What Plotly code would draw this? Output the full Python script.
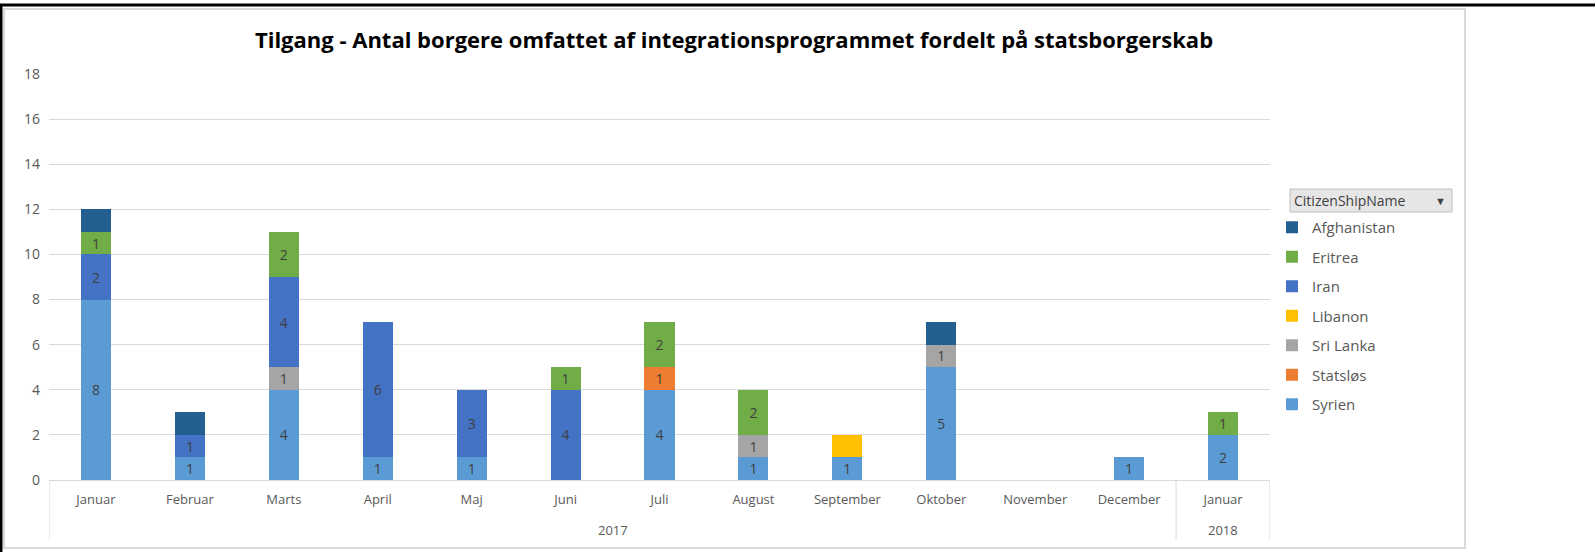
import plotly.graph_objects as go

# Tilgang pr. måned, fordelt på statsborgerskab
months = ["Januar", "Februar", "Marts", "April", "Maj", "Juni", "Juli",
          "August", "September", "Oktober", "November", "December", "Januar"]
years = ["2017", "2018"]
year_spans = [(0, 11), (12, 12)]  # første og sidste måned i hvert år

syrien = [8, 1, 4, 1, 1, None, 4, 1, 1, 5, None, 1, 2]
statslos = [None, None, None, None, None, None, 1, None, None, None, None, None, None]
sri_lanka = [None, None, 1, None, None, None, None, 1, None, 1, None, None, None]
libanon = [None, None, None, None, None, None, None, None, 1, None, None, None, None]
iran = [2, 1, 4, 6, 3, 4, None, None, None, None, None, None, None]
eritrea = [1, None, 2, None, None, 1, 2, 2, None, None, None, None, 1]
afghanistan = [1, 1, None, None, None, None, None, None, None, 1, None, None, None]

# nederst -> øverst i stakken
serier = [
    ("Syrien", syrien, "#5B9BD5", True),
    ("Statsløs", statslos, "#ED7D31", True),
    ("Sri Lanka", sri_lanka, "#A5A5A5", True),
    ("Libanon", libanon, "#FFC000", False),
    ("Iran", iran, "#4472C4", True),
    ("Eritrea", eritrea, "#70AD47", True),
    ("Afghanistan", afghanistan, "#255E91", False),
]

W, H = 1595, 552
L, R, T, B = 49, 1270, 74, 480
xpos = list(range(len(months)))


def px_x(p):
    return (p - L) / (R - L)


def px_y(p):
    return (B - p) / (B - T)


fig = go.Figure()
for i, (navn, vaerdier, farve, vis_tal) in enumerate(serier):
    fig.add_trace(go.Bar(
        x=xpos,
        y=vaerdier,
        name=navn,
        legendgroup=navn,
        legendrank=len(serier) - i,
        marker=dict(color=farve, line=dict(width=0)),
        text=vaerdier if vis_tal else None,
        textposition="inside" if vis_tal else "none",
        insidetextanchor="middle",
        constraintext="none",
        textangle=0,
        textfont=dict(color="#404040", size=14, family="Open Sans"),
    ))

fig.update_layout(
    width=W, height=H,
    barmode="stack",
    bargap=0.68,
    plot_bgcolor="white",
    paper_bgcolor="white",
    margin=dict(l=L, r=W - R, t=T, b=H - B),
    font=dict(family="Open Sans", color="#595959", size=14),
    title=dict(
        text="<b>Tilgang - Antal borgere omfattet af integrationsprogrammet fordelt på statsborgerskab</b>",
        x=734 / W, xanchor="center",
        y=1 - 40 / H, yanchor="middle",
        font=dict(family="Open Sans", size=22, color="#000000"),
    ),
    legend=dict(
        x=px_x(1272), xanchor="left",
        y=px_y(211), yanchor="top",
        traceorder="grouped",
        tracegroupgap=7,
        font=dict(size=15, color="#595959"),
        bgcolor="rgba(0,0,0,0)",
    ),
    showlegend=True,
)

fig.update_yaxes(
    range=[0, 18], dtick=2,
    showgrid=True, gridcolor="#D9D9D9", gridwidth=1,
    zeroline=False, showline=False, ticks="",
    ticklabelstandoff=8,
    tickfont=dict(size=14, color="#595959"),
)
fig.update_xaxes(
    range=[-0.5, len(months) - 0.5],
    tickvals=xpos, ticktext=months,
    showgrid=False, zeroline=False,
    showline=True, linecolor="#D9D9D9", linewidth=1,
    ticks="", ticklabelstandoff=7,
    tickfont=dict(size=13, color="#595959"),
)

# årsniveau under månederne med skillelinjer
for aar, (a, b) in zip(years, year_spans):
    fig.add_annotation(text=aar, xref="x", yref="paper",
                       x=(a + b) / 2, y=px_y(530), yanchor="middle",
                       showarrow=False, font=dict(size=13, color="#595959"))
for kant in [year_spans[0][0] - 0.5] + [b + 0.5 for _, b in year_spans]:
    fig.add_shape(type="line", xref="x", yref="paper",
                  x0=kant, x1=kant, y0=0, y1=px_y(540),
                  line=dict(color="#D9D9D9", width=1))

# ramme om diagrammet
fig.add_shape(type="rect", xref="paper", yref="paper",
              x0=px_x(4), x1=px_x(1465), y0=px_y(548), y1=px_y(9),
              line=dict(color="#D9D9D9", width=2), layer="below")
fig.add_shape(type="line", xref="paper", yref="paper",
              x0=px_x(0), x1=px_x(W), y0=px_y(5), y1=px_y(5),
              line=dict(color="#000000", width=3))
fig.add_shape(type="line", xref="paper", yref="paper",
              x0=px_x(1), x1=px_x(1), y0=px_y(5), y1=px_y(H),
              line=dict(color="#000000", width=3))

# filterknap over forklaringen
fig.add_shape(type="rect", xref="paper", yref="paper",
              x0=px_x(1290), x1=px_x(1452), y0=px_y(212), y1=px_y(189),
              line=dict(color="#BFBFBF", width=1), fillcolor="#E6E6E6")
fig.add_annotation(text="CitizenShipName", xref="paper", yref="paper",
                   x=px_x(1292), y=px_y(200.5), xanchor="left", yanchor="middle",
                   showarrow=False, font=dict(size=14, color="#404040"))
fig.add_annotation(text="▼", xref="paper", yref="paper",
                   x=px_x(1440), y=px_y(200.5), xanchor="center", yanchor="middle",
                   showarrow=False, font=dict(size=11, color="#404040"))

fig.write_html("out.html", config={"displayModeBar": False},
               post_script="document.body.style.margin='0';")
